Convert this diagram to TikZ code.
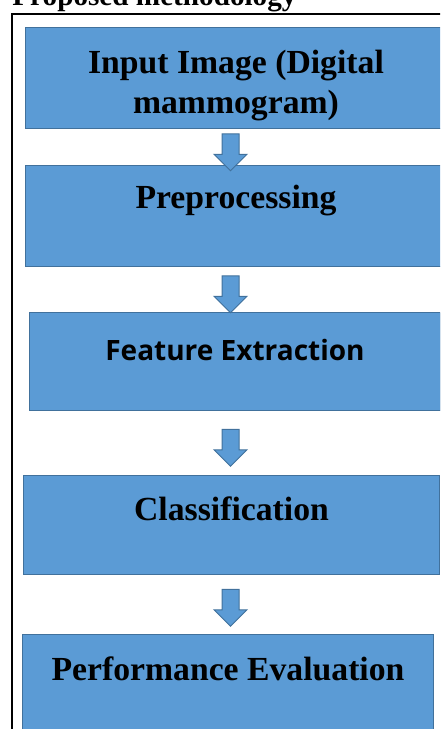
\documentclass[tikz,border=0pt]{standalone}
\usepackage{fontspec}
\setmainfont{Liberation Serif}
\newfontfamily\featfont{Open Sans}
\usetikzlibrary{shapes.arrows}

\definecolor{boxblue}{HTML}{5B9BD5}
\definecolor{boxedge}{HTML}{41719C}

\tikzset{
  stagebox/.style={draw=boxedge,fill=boxblue,line width=0.5pt,inner sep=0,
    anchor=north west,font=\bfseries\fontsize{16.85}{20}\selectfont},
  stage/.style 2 args={stagebox,text height=#1,text depth=#2},
  flowarrow/.style={single arrow,draw=boxedge,fill=boxblue,line width=0.5pt,
    inner sep=4pt,minimum height=18.5pt,minimum width=16pt,
    single arrow head extend=4pt,shape border rotate=270}
}

\begin{document}
\begin{tikzpicture}[x=0.5pt,y=-0.5pt]
\clip (0,0) rectangle (440,729);

\node[anchor=base west,inner sep=0,font=\bfseries\fontsize{14.6}{17}\selectfont]
  (title) at (12,5) {Proposed methodology};

% frame round the chart
\coordinate (fb) at (12,735);
\coordinate (ft) at (12,14);
\coordinate (fr) at (445,14);
\draw[line width=1pt] (fb) -- (ft) -- (fr);

\node[stage={43pt}{7.5pt},align=center,minimum width=210.5pt]
  (b1) at (25,27) {Input Image (Digital\\mammogram)};
\node[stage={21.5pt}{29pt},minimum width=210.5pt] (b2) at (25,165) {Preprocessing};
\node[stage={24pt}{25pt},minimum width=205.5pt,
  font=\featfont\bfseries\fontsize{14}{16}\selectfont] (b3) at (29,312) {Feature Extraction};
\node[stage={22.5pt}{27pt},minimum width=208pt] (b4) at (23,475) {Classification};
\node[stage={23pt}{25.5pt},minimum width=205.5pt] (b5) at (22,634) {Performance Evaluation};

\foreach \y [count=\i] in {148,290,443.5,603.5}
{
        \node[flowarrow] (a\i) at (230.5,\y) {};
}
\end{tikzpicture}
\end{document}
